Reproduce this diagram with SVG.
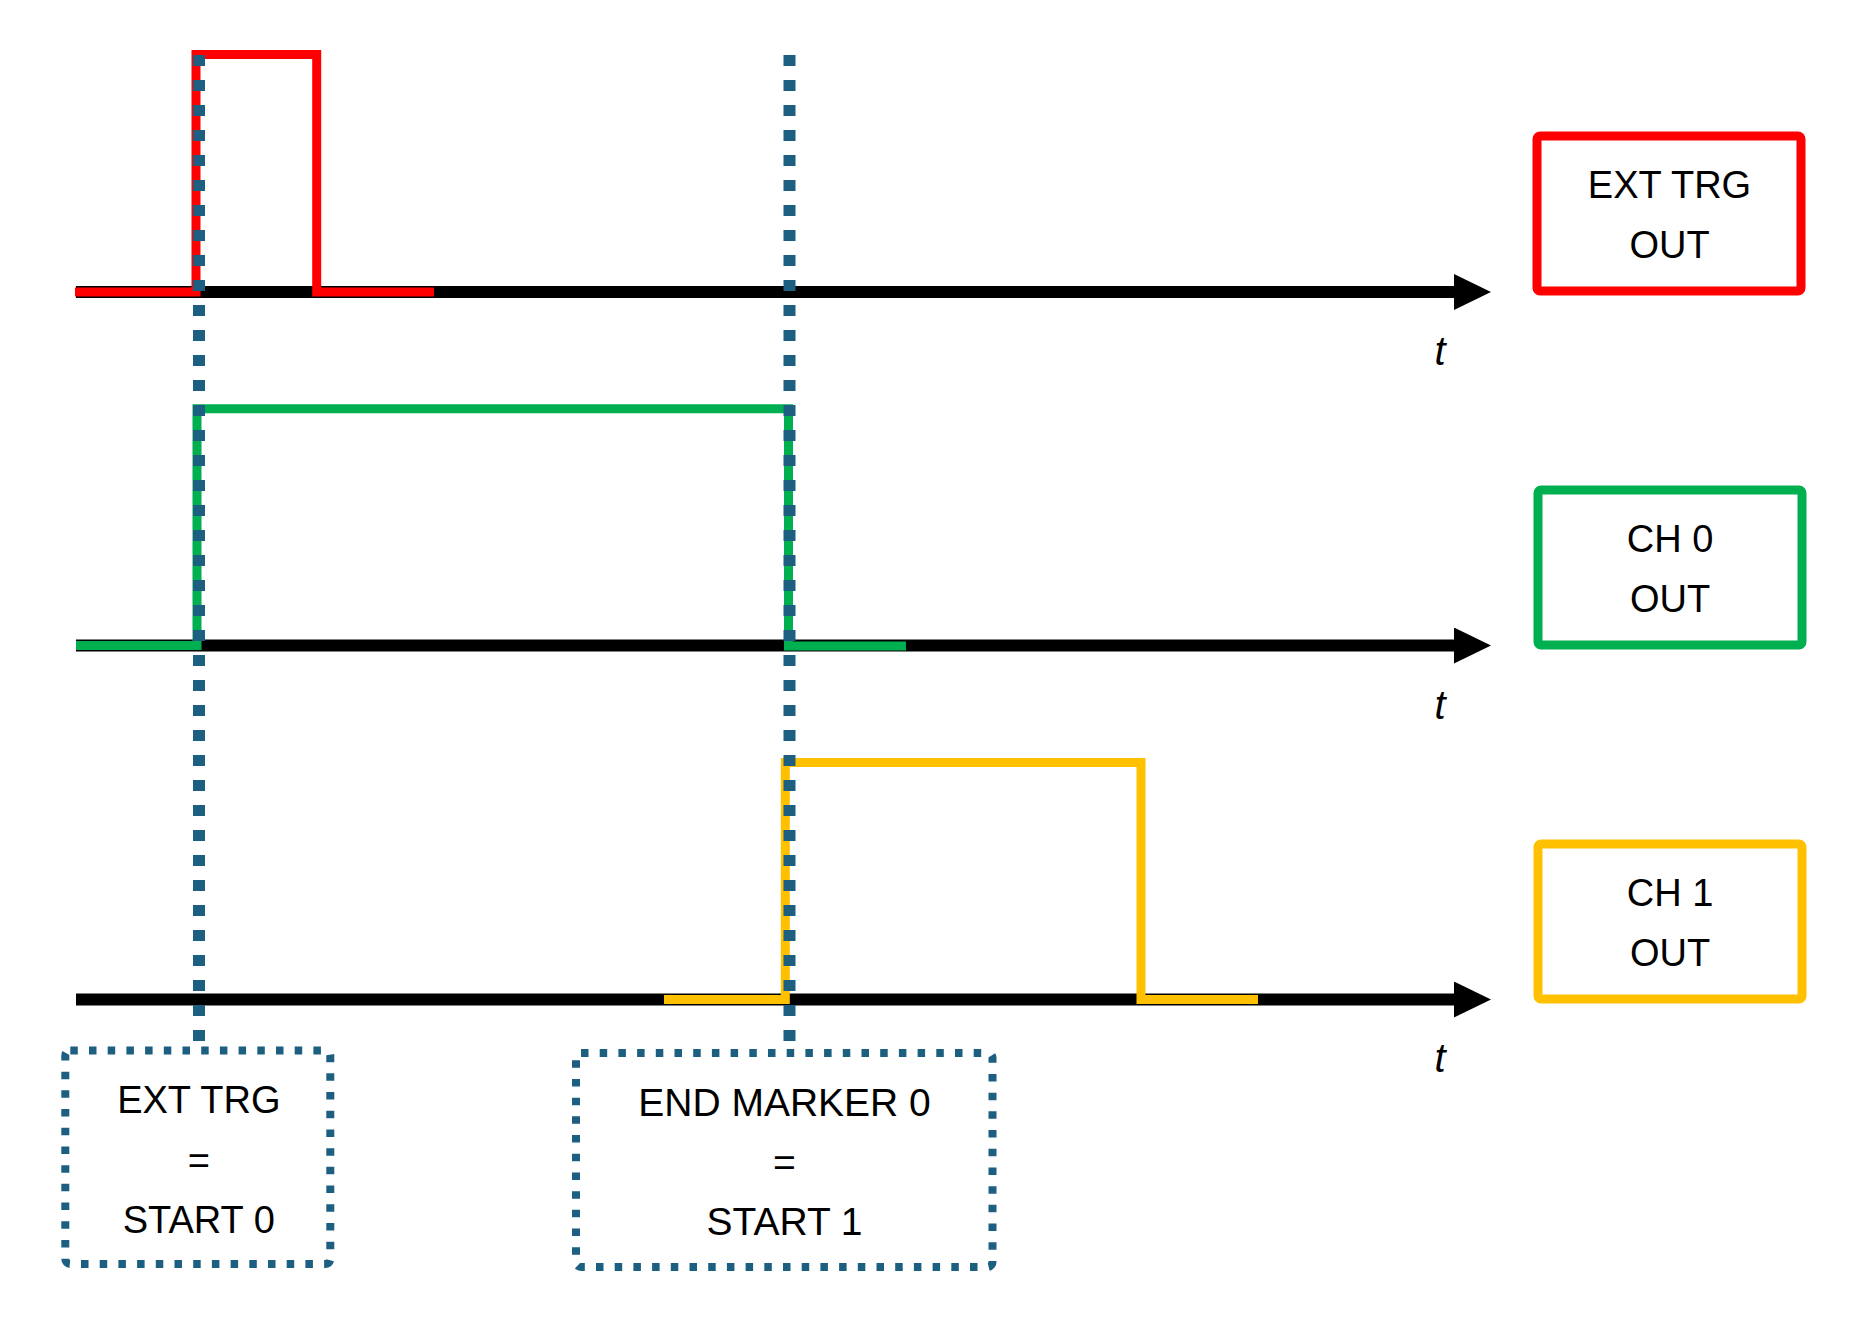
<svg xmlns="http://www.w3.org/2000/svg" width="1876" height="1340" viewBox="0 0 1876 1340">
  <defs>
    <marker id="arrow" markerUnits="userSpaceOnUse" markerWidth="38" markerHeight="38" refX="0" refY="18" orient="auto">
      <path d="M0,0 L37,18 L0,36 Z" fill="#000000"/>
    </marker>
    <style>
      .axis { stroke: #000000; stroke-width: 12; fill: none; marker-end: url(#arrow); }
      .sig { fill: none; stroke-width: 9; stroke-linejoin: miter; stroke-linecap: butt; }
      .red { stroke: #FF0000; }
      .green { stroke: #00B050; }
      .yellow { stroke: #FFC000; }
      .box { fill: #FFFFFF; stroke-width: 9; }
      .dotline { stroke: #1D5F80; stroke-width: 12; stroke-dasharray: 11 14; fill: none; }
      .dotbox { fill: none; stroke: #1D5F80; stroke-width: 8; stroke-dasharray: 7.5 11.2; }
      .lbl { font-family: "Liberation Sans", Arial, sans-serif; font-size: 38px; fill: #000000; text-anchor: middle; }
      .lbl2 { font-family: "Liberation Sans", Arial, sans-serif; font-size: 39px; fill: #000000; text-anchor: middle; }
      .t { font-family: "Liberation Sans", Arial, sans-serif; font-size: 40px; font-style: italic; fill: #000000; text-anchor: middle; }
    </style>
  </defs>

  <g id="axes">
    <line class="axis" x1="76" y1="292" x2="1454" y2="292"/>
    <line class="axis" x1="76" y1="645.5" x2="1454" y2="645.5"/>
    <line class="axis" x1="76" y1="999.5" x2="1454" y2="999.5"/>
    <text class="t" x="1440" y="365">t</text>
    <text class="t" x="1440" y="718.5">t</text>
    <text class="t" x="1440" y="1072">t</text>
  </g>

  <g id="ext-trg-signal">
    <path class="sig red" d="M75,292 H196 V54.5 H316.7 V292 H434"/>
  </g>
  <g id="ch0-signal">
    <path class="sig green" d="M76,645.5 H197 V408.7 H788.5 V646 H906"/>
  </g>
  <g id="ch1-signal">
    <path class="sig yellow" d="M664,999.5 H785.3 V762.5 H1141 V999.5 H1258"/>
  </g>

  <g id="connectors">
    <line class="dotline" x1="199" y1="55" x2="199" y2="1041"/>
    <line class="dotline" x1="789.5" y1="55" x2="789.5" y2="1041"/>
  </g>

  <g id="ext-trg-out">
    <rect class="box red" x="1537" y="136" width="264" height="155" rx="3"/>
    <text class="lbl" x="1669.5" y="198">EXT TRG</text>
    <text class="lbl" x="1669.5" y="258">OUT</text>
  </g>
  <g id="ch0-out">
    <rect class="box green" x="1538" y="490" width="264" height="155" rx="3"/>
    <text class="lbl" x="1670" y="551.5">CH 0</text>
    <text class="lbl" x="1670" y="611.5">OUT</text>
  </g>
  <g id="ch1-out">
    <rect class="box yellow" x="1538" y="844" width="264" height="155" rx="3"/>
    <text class="lbl" x="1670" y="905.5">CH 1</text>
    <text class="lbl" x="1670" y="965.5">OUT</text>
  </g>

  <g id="ext-trg-start0">
    <rect class="dotbox" x="65.3" y="1050.5" width="265" height="213.5" rx="5"/>
    <text class="lbl" x="198.8" y="1113">EXT TRG</text>
    <text class="lbl" x="198.8" y="1173.5">=</text>
    <text class="lbl" x="198.8" y="1233">START 0</text>
  </g>
  <g id="end-marker0-start1">
    <rect class="dotbox" x="576" y="1053" width="416.5" height="214" rx="5"/>
    <text class="lbl2" x="784.5" y="1116">END MARKER 0</text>
    <text class="lbl2" x="784.5" y="1175.5">=</text>
    <text class="lbl2" x="784.5" y="1235">START 1</text>
  </g>
</svg>
